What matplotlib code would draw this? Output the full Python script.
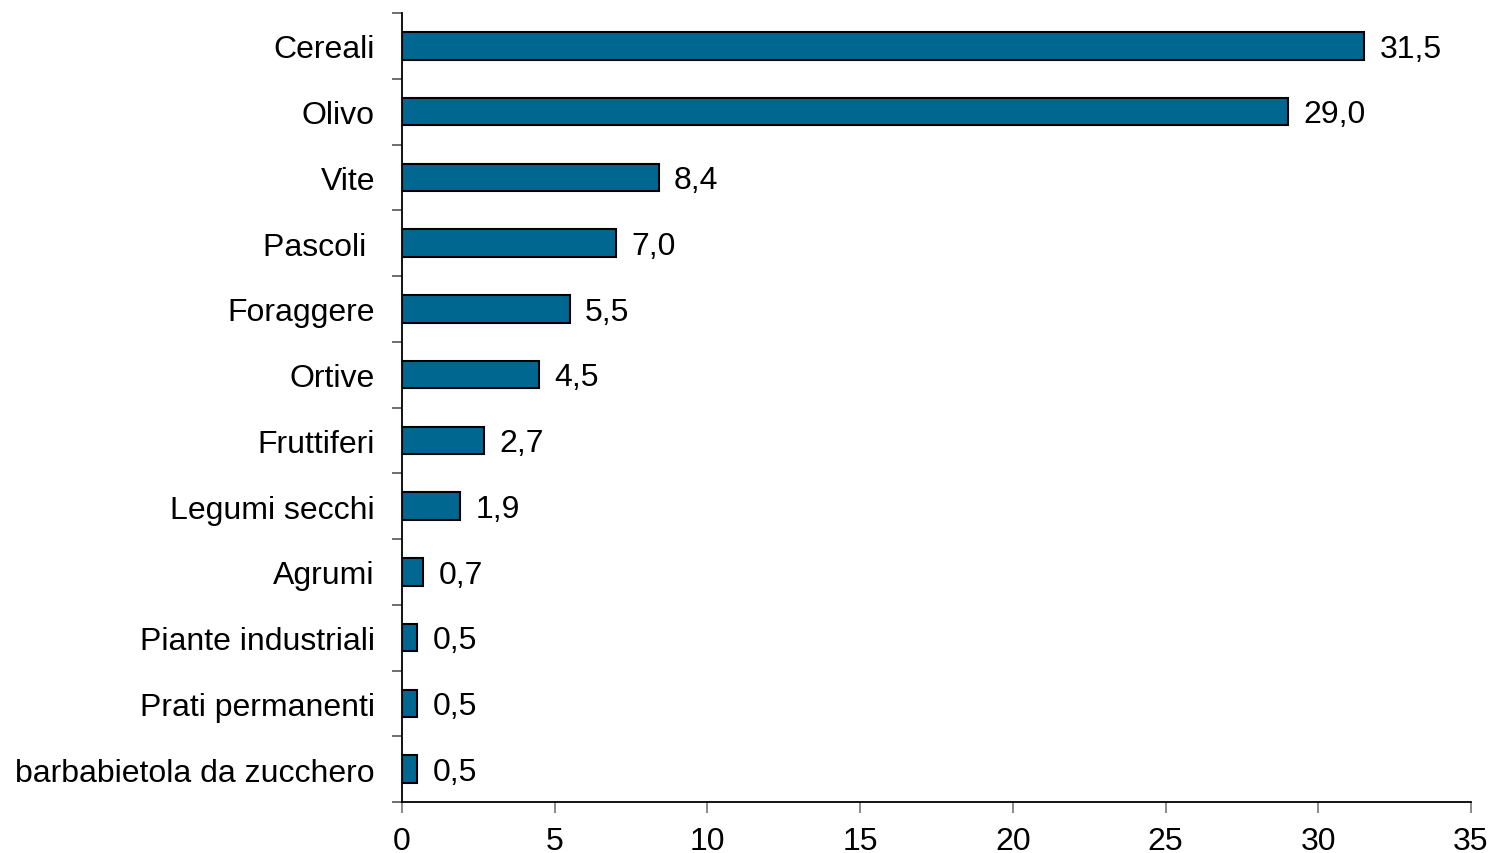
import matplotlib.pyplot as plt
import numpy as np

categories = [
    "Cereali",
    "Olivo",
    "Vite",
    "Pascoli ",
    "Foraggere",
    "Ortive",
    "Fruttiferi",
    "Legumi secchi",
    "Agrumi",
    "Piante industriali",
    "Prati permanenti",
    "barbabietola da zucchero",
]
values = [31.5, 29.0, 8.4, 7.0, 5.5, 4.5, 2.7, 1.9, 0.7, 0.5, 0.5, 0.5]
x_ticks = [0, 5, 10, 15, 20, 25, 30, 35]

plt.rcParams["font.family"] = ["Liberation Sans", "DejaVu Sans"]
FS = 23

fig = plt.figure(figsize=(14.95, 8.54), dpi=100)
ax = fig.add_axes([0.2689, 0.0597, 0.9839 - 0.2689, 0.9836 - 0.0597])

n = len(categories)
y = np.arange(n)[::-1]
ax.barh(y, values, height=0.42, color="#006890", edgecolor="black", linewidth=1.5)

for yi, v in zip(y, values):
    ax.text(v + 0.5, yi - 0.04, f"{v:.1f}".replace(".", ","),
            va="center", ha="left", fontsize=FS)

ax.set_xlim(0, 35)
ax.set_ylim(-0.5, n - 0.5)
ax.set_xticks(x_ticks)
ax.set_xticklabels([str(t) for t in x_ticks], fontsize=FS)

# category labels at bar centres, tick marks at the boundaries
ax.set_yticks(y)
ax.set_yticklabels(categories, fontsize=FS)
ax.tick_params(axis="y", which="major", length=0, pad=19.5)
ax.set_yticks(np.arange(n + 1) - 0.5, minor=True)
ax.tick_params(axis="y", which="minor", length=7, width=1.2, color="#555555")
ax.tick_params(axis="x", length=8, width=1.2, color="#777777", pad=9)

for s in ["top", "right"]:
    ax.spines[s].set_visible(False)
ax.spines["left"].set_linewidth(1.3)
ax.spines["bottom"].set_linewidth(1.3)

fig.savefig("out.png", dpi=100)
